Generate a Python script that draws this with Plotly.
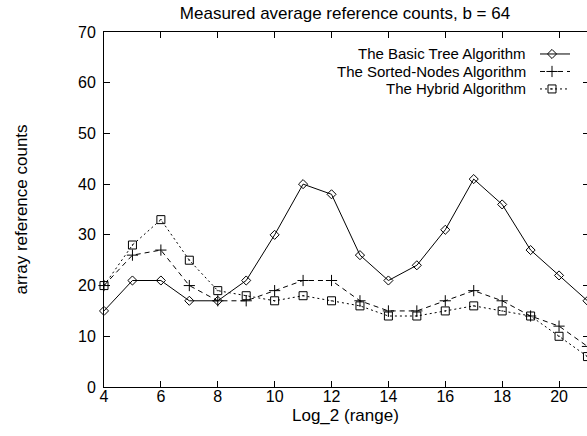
import plotly.graph_objects as go

x_log2 = [4, 5, 6, 7, 8, 9, 10, 11, 12, 13, 14, 15, 16, 17, 18, 19, 20, 21]
basic_tree = [15, 21, 21, 17, 17, 21, 30, 40, 38, 26, 21, 24, 31, 41, 36, 27, 22, 17]
sorted_nodes = [20, 26, 27, 20, 17, 17, 19, 21, 21, 17, 15, 15, 17, 19, 17, 14, 12, 8]
hybrid = [20, 28, 33, 25, 19, 18, 17, 18, 17, 16, 14, 14, 15, 16, 15, 14, 10, 6]
series_names = ["The Basic Tree Algorithm", "The Sorted-Nodes Algorithm", "The Hybrid Algorithm"]
x_ticks = [4, 6, 8, 10, 12, 14, 16, 18, 20]
y_ticks = [0, 10, 20, 30, 40, 50, 60, 70]

FONT = "Liberation Sans, Arial, Helvetica, sans-serif"
TXT = 17
LEG_TXT = 15
W = 589
PLOT_W = W - 104
PLOT_TOP, PLOT_BOT = 32, 387.3
styles = [
    dict(dash="solid", symbol="diamond-open", size=7),
    dict(dash="5px,4px", symbol="cross-thin-open", size=8),
    dict(dash="2px,3px", symbol="square-open-dot", size=8),
]
data = [basic_tree, sorted_nodes, hybrid]


def px_to_paper(px):
    return (px - 104) / PLOT_W


def py_to_paper(py):
    return (PLOT_BOT - py) / (PLOT_BOT - PLOT_TOP)


fig = go.Figure()
for name, ys, st in zip(series_names, data, styles):
    fig.add_trace(go.Scatter(
        x=x_log2, y=ys, mode="lines+markers", name=name, showlegend=False,
        line=dict(color="black", width=1, dash=st["dash"]),
        marker=dict(symbol=st["symbol"], size=st["size"], color="black",
                    line=dict(color="black", width=1)),
        cliponaxis=False,
    ))

# manual legend (text left of sample, gnuplot style)
leg_rows = [py_to_paper(54), py_to_paper(71.5), py_to_paper(89)]
for name, st, yy in zip(series_names, styles, leg_rows):
    fig.add_trace(go.Scatter(
        x=[px_to_paper(540), px_to_paper(570)], y=[yy, yy], mode="lines",
        xaxis="x2", yaxis="y2", showlegend=False, hoverinfo="skip",
        line=dict(color="black", width=1, dash=st["dash"]),
    ))
    fig.add_trace(go.Scatter(
        x=[px_to_paper(552)], y=[yy], mode="markers", xaxis="x2", yaxis="y2",
        showlegend=False, hoverinfo="skip",
        marker=dict(symbol=st["symbol"], size=st["size"], color="black",
                    line=dict(color="black", width=1)),
    ))
    fig.add_annotation(x=px_to_paper(528), y=yy, xref="paper", yref="paper", text=name,
                       showarrow=False, xanchor="right", yanchor="middle",
                       font=dict(family=FONT, size=LEG_TXT, color="black"))

fig.add_annotation(x=px_to_paper(345), y=-0.079, xref="paper", yref="paper",
                   text="Log_2 (range)", showarrow=False, xanchor="center",
                   yanchor="middle", font=dict(family=FONT, size=TXT, color="black"))
fig.add_annotation(x=px_to_paper(21), y=0.5, xref="paper", yref="paper",
                   text="array reference counts", showarrow=False, xanchor="center",
                   yanchor="middle", textangle=-90,
                   font=dict(family=FONT, size=TXT, color="black"))

fig.update_layout(
    width=W, height=436,
    margin=dict(l=104, r=0, t=32, b=49),
    paper_bgcolor="white", plot_bgcolor="white",
    font=dict(family=FONT, size=TXT, color="black"),
    title=dict(text="Measured average reference counts, b = 64", x=px_to_paper(345),
               xref="paper", y=1 - 13 / 436, yref="container", xanchor="center",
               yanchor="middle", font=dict(family=FONT, size=TXT, color="black")),
    xaxis=dict(range=[4, 4 + PLOT_W / 28.44], tickvals=x_ticks, ticks="inside", ticklen=6,
               tickcolor="black", showline=True, linecolor="black", linewidth=1,
               mirror="ticks", showgrid=False, zeroline=False, tickfont=dict(size=16),
               ticklabelstandoff=-5),
    yaxis=dict(range=[0, 70], tickvals=y_ticks, ticks="inside", ticklen=6, tickcolor="black",
               showline=True, linecolor="black", linewidth=1, mirror="ticks",
               showgrid=False, zeroline=False, tickfont=dict(size=16),
               ticklabelstandoff=4),
    xaxis2=dict(range=[0, 1], overlaying="x", visible=False),
    yaxis2=dict(range=[0, 1], overlaying="y", visible=False),
)

fig.write_html(
    "out.html",
    config={"displayModeBar": False},
    post_script=("document.body.style.margin='0';document.body.style.padding='0';"
                 "document.body.style.overflow='hidden';"
                 "document.documentElement.style.overflow='hidden';"),
)
